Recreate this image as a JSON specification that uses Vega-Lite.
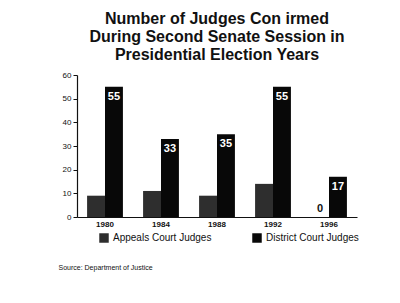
{
  "$schema": "https://vega.github.io/schema/vega-lite/v6.json",
  "width": 280,
  "height": 142,
  "autosize": {"type": "none"},
  "padding": {"left": 77, "top": 75, "right": 43, "bottom": 86},
  "background": "white",
  "config": {"view": {"stroke": null}, "font": "Liberation Sans"},
  "title": {
    "text": ["Number of Judges Con irmed", "During Second Senate Session in", "Presidential Election Years"],
    "fontSize": 16,
    "font": "Liberation Sans",
    "fontWeight": "bold",
    "lineHeight": 18,
    "color": "#111",
    "offset": 8,
    "anchor": "middle"
  },
  "data": {
    "values": [
      {"year": "1980", "type": "Appeals Court Judges", "value": 9},
      {"year": "1980", "type": "District Court Judges", "value": 55},
      {"year": "1984", "type": "Appeals Court Judges", "value": 11},
      {"year": "1984", "type": "District Court Judges", "value": 33},
      {"year": "1988", "type": "Appeals Court Judges", "value": 9},
      {"year": "1988", "type": "District Court Judges", "value": 35},
      {"year": "1992", "type": "Appeals Court Judges", "value": 14},
      {"year": "1992", "type": "District Court Judges", "value": 55},
      {"year": "1996", "type": "Appeals Court Judges", "value": 0},
      {"year": "1996", "type": "District Court Judges", "value": 17}
    ]
  },
  "encoding": {
    "x": {
      "field": "year",
      "type": "nominal",
      "scale": {"paddingInner": 0.36, "paddingOuter": 0.18},
      "axis": {
        "labelAngle": 0,
        "labelFontSize": 8,
        "labelFontWeight": "bold",
        "labelColor": "#111",
        "labelPadding": 3,
        "ticks": false,
        "domainColor": "#111",
        "domainWidth": 1.2,
        "title": "Source: Department of Justice",
        "titleFontSize": 7,
        "titleFontWeight": "normal",
        "titleColor": "#111",
        "titleAnchor": "start",
        "titleAlign": "left",
        "titleX": -19,
        "titleY": 46
      }
    },
    "xOffset": {"field": "type", "sort": ["Appeals Court Judges", "District Court Judges"]},
    "y": {
      "field": "value",
      "type": "quantitative",
      "scale": {"domain": [0, 60]},
      "axis": {
        "values": [0, 10, 20, 30, 40, 50, 60],
        "grid": false,
        "title": null,
        "labelFontSize": 8,
        "labelColor": "#111",
        "tickSize": 4,
        "tickColor": "#111",
        "domainColor": "#111",
        "domainWidth": 1.2,
        "labelPadding": 2
      }
    }
  },
  "layer": [
    {
      "mark": {"type": "bar"},
      "encoding": {
        "color": {
          "field": "type",
          "type": "nominal",
          "scale": {"domain": ["Appeals Court Judges", "District Court Judges"], "range": ["#2e2e2e", "#080808"]},
          "legend": {
            "orient": "none",
            "legendX": 22,
            "legendY": 158,
            "direction": "horizontal",
            "title": null,
            "symbolType": "square",
            "symbolSize": 90,
            "symbolStrokeWidth": 0,
            "labelFontSize": 10,
            "labelColor": "#111",
            "labelFont": "Liberation Sans",
            "columnPadding": 40,
            "labelLimit": 200
          }
        }
      }
    },
    {
      "transform": [{"filter": "datum.type == 'District Court Judges'"}],
      "mark": {"type": "text", "color": "white", "fontWeight": "bold", "fontSize": 11, "baseline": "top", "dy": 4},
      "encoding": {
        "text": {"field": "value", "type": "quantitative"}
      }
    },
    {
      "transform": [{"filter": "datum.type == 'Appeals Court Judges' && datum.value == 0"}],
      "mark": {"type": "text", "color": "#111", "fontWeight": "bold", "fontSize": 11, "baseline": "bottom", "dy": -3},
      "encoding": {
        "text": {"field": "value", "type": "quantitative"}
      }
    }
  ]
}
